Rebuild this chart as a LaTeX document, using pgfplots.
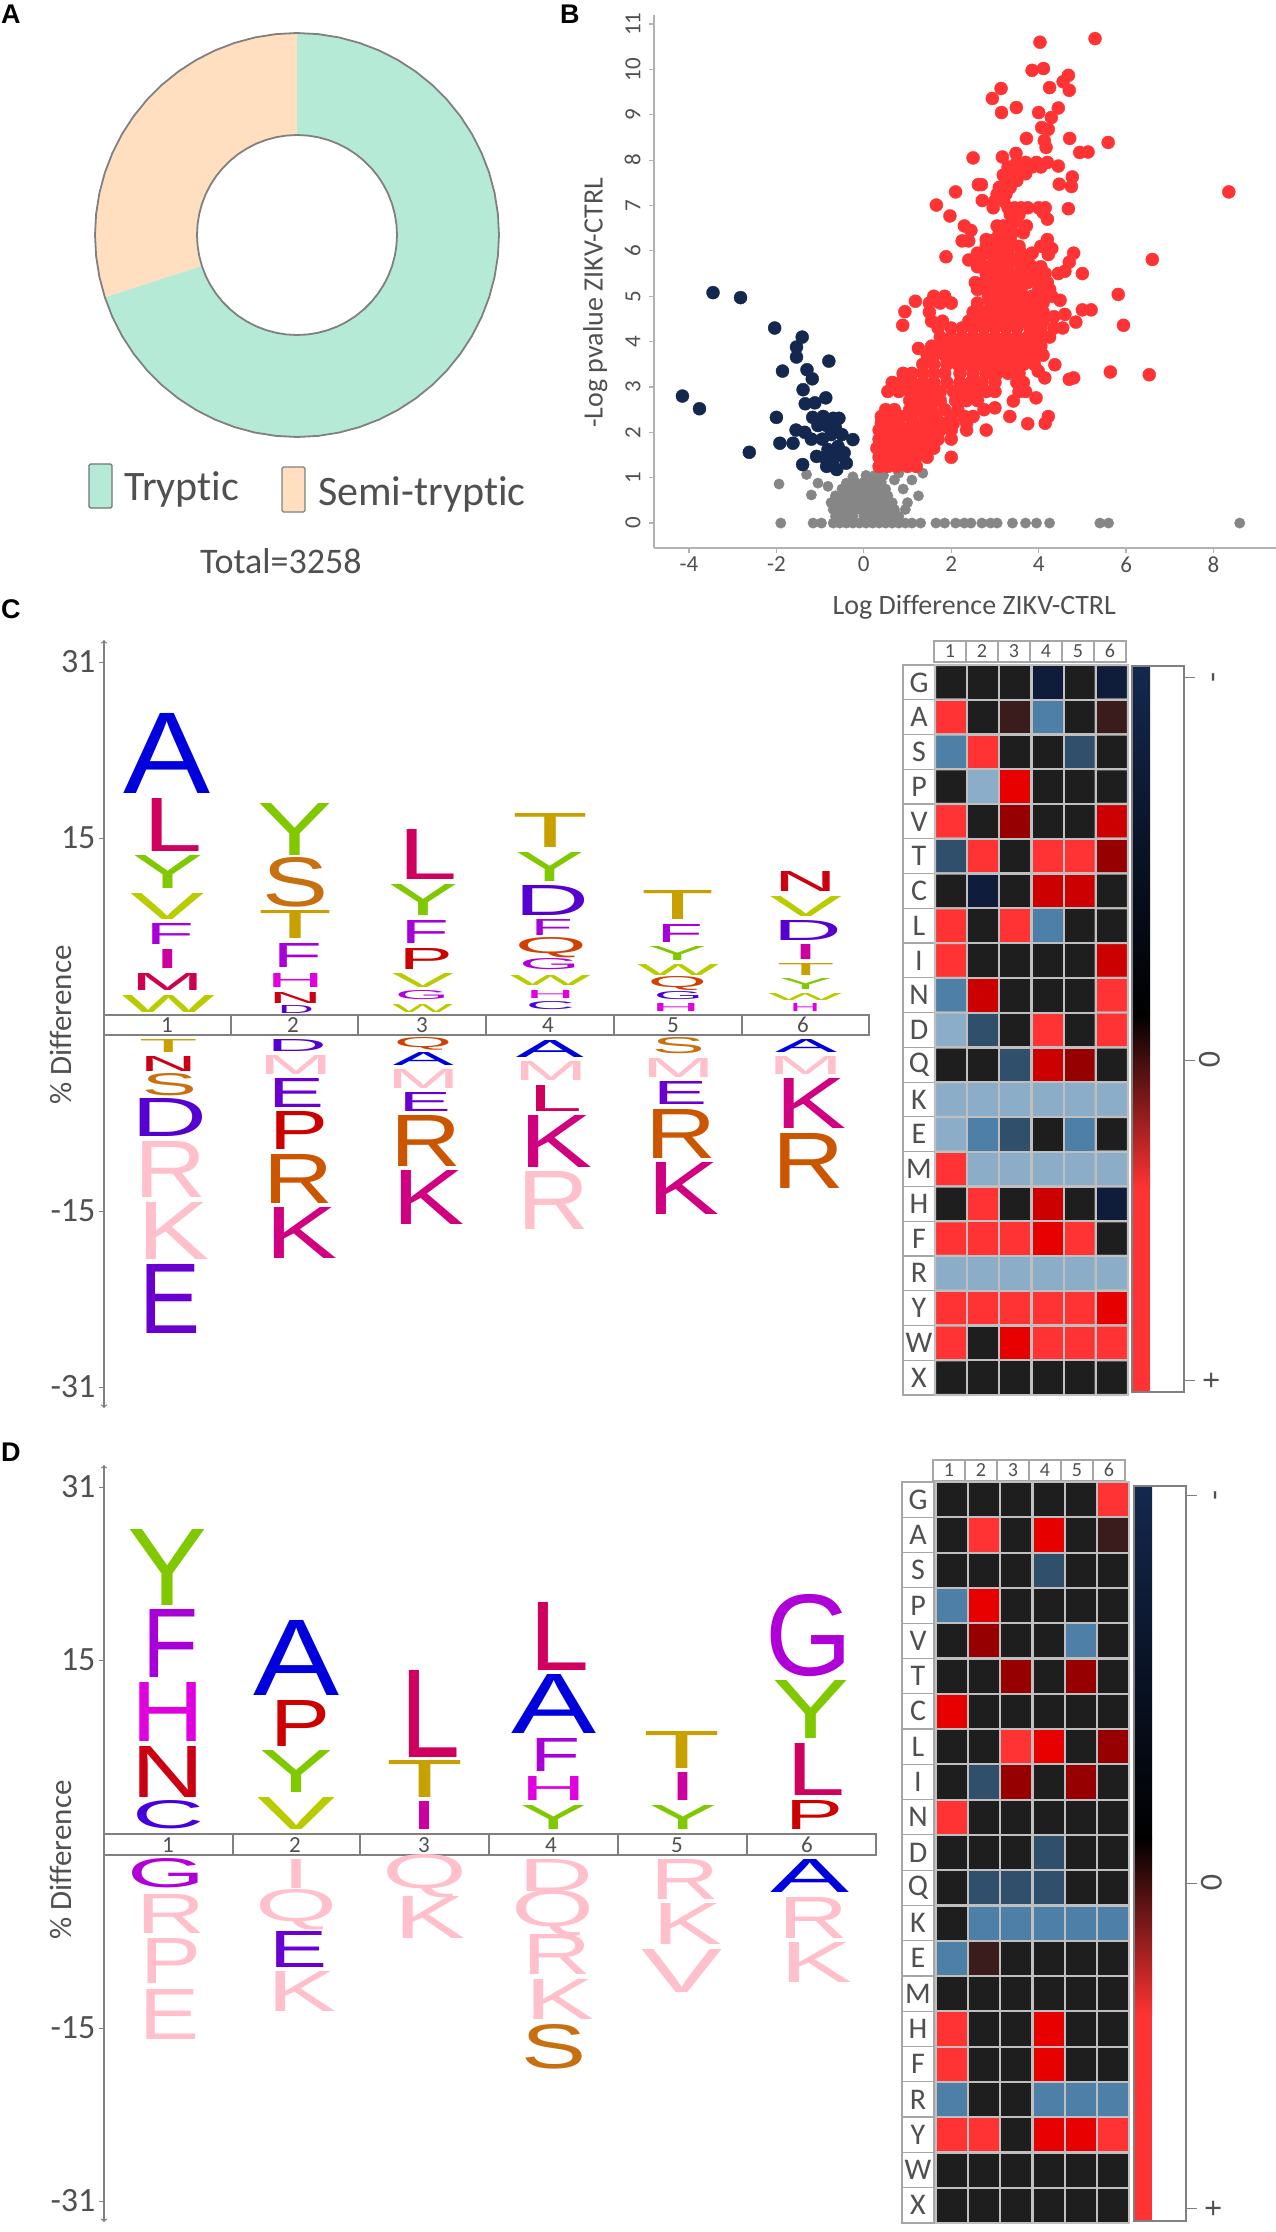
\documentclass[border=0pt]{standalone}
\usepackage{fontspec}
\usepackage{graphicx}
\usepackage{pgfplots}
\usepackage{pgfplotstable}
\pgfplotsset{compat=1.18}
\usepgfplotslibrary{polar}
\setmainfont{Carlito}[Ligatures=NoCommon]
\newfontfamily\lgfont{Liberation Sans}

% panel colours
\definecolor{txt}{HTML}{505050}
\definecolor{axgrey}{HTML}{808080}
\definecolor{mint}{HTML}{B5EAD7}
\definecolor{peach}{HTML}{FFDFBF}
\definecolor{volred}{HTML}{FF3333}
\definecolor{volnavy}{HTML}{14284F}
\definecolor{volgrey}{HTML}{868686}
% logo colours
\definecolor{cA}{HTML}{0000DD}\definecolor{cL}{HTML}{D0005F}\definecolor{cY}{HTML}{80C800}
\definecolor{cV}{HTML}{B8CC00}\definecolor{cF}{HTML}{A800D8}\definecolor{cI}{HTML}{CC00A0}
\definecolor{cM}{HTML}{D00050}\definecolor{cS}{HTML}{C87010}\definecolor{cT}{HTML}{C8A000}
\definecolor{cH}{HTML}{E000E0}\definecolor{cN}{HTML}{CC0010}\definecolor{cD}{HTML}{5500D0}
\definecolor{cR}{HTML}{CC5500}\definecolor{cK}{HTML}{D00080}\definecolor{cE}{HTML}{6A00D0}
\definecolor{cP}{HTML}{CC0000}\definecolor{cQ}{HTML}{D04000}\definecolor{cG}{HTML}{B000D8}
\definecolor{cC}{HTML}{4400DD}\definecolor{cPk}{HTML}{FFC0CB}

% letter of a logo: x0 x1 y0 y1 letter colour, stretched into its box
\newcommand{\LG}[6]{\node[inner sep=0pt,outer sep=0pt,text=#6] at (axis cs:{(#1+#2)/2},{(#3+#4)/2}) {\pgfmathsetmacro\w{#2-#1}\pgfmathsetmacro\h{#4-#3}\resizebox{\w pt}{\h pt}{\lgfont #5}};}

\pgfplotsset{
  logo/.style={
    scale only axis, clip=false, y dir=reverse, anchor=south west,
    axis x line=none, axis y line=left,
    axis line style={<->,draw=axgrey,line width=1.3pt},
    y tick style={draw=axgrey,line width=1pt}, tick align=outside, major tick length=5pt,
    tick label style={font=\fontsize{34}{38}\selectfont,text=txt},
    ytick pos=left,
  },
  heat/.style={
    scale only axis, clip=false, y dir=reverse, anchor=south west, hide axis,
    xmin=-0.5, xmax=5.5, ymin=-0.5, ymax=20.5,
    point meta min=0, point meta max=9,
    colormap={hm}{rgb255=(30,30,30) rgb255=(15,28,58) rgb255=(47,79,107) rgb255=(78,127,166) rgb255=(139,173,200)
      rgb255=(58,28,28) rgb255=(150,0,0) rgb255=(204,0,0) rgb255=(230,0,0) rgb255=(255,51,51)},
  },
}

\pgfplotstableread{
a r
0 202
6 202
12 202
18 202
24 202
30 202
36 202
42 202
48 202
54 202
60 202
66 202
72 202
78 202
84 202
90 202
96 202
102 202
108 202
114 202
120 202
126 202
132 202
138 202
144 202
150 202
156 202
162 202
168 202
174 202
180 202
186 202
192 202
198 202
204 202
210 202
216 202
222 202
228 202
234 202
240 202
246 202
252 202
258 202
264 202
270 202
276 202
282 202
288 202
294 202
300 202
306 202
312 202
318 202
324 202
330 202
336 202
342 202
348 202
354 202
360 202
}\ringtab

% frame of a heat map: top of rows, row height, left of the row labels, top of header, colour bar left, top, bottom
\newcommand{\heatframe}[7]{%
\begin{scope}[x=1pt,y=-1pt]
  \foreach \l [count=\i from 0] in {G,A,S,P,V,T,C,L,I,N,D,Q,K,E,M,H,F,R,Y,W,X} {
    \draw[axgrey!70,line width=1.2pt,fill=white] (#3,{#1+\i*#2}) rectangle ++(32,#2);
    \node[text=txt,font=\fontsize{30}{34}\selectfont,inner sep=0pt] at (#3+16,{#1+(\i+0.5)*#2}) {\l};
  }
  \foreach \n [count=\i from 0] in {1,...,6} {
    \draw[axgrey!70,line width=1.2pt,fill=white] ({#3+31+\i*32},#4) rectangle ++(32,21);
    \node[text=txt,font=\fontsize{20}{24}\selectfont,inner sep=0pt] at ({#3+47+\i*32},#4+10) {\n};
  }
  \fill[white] (#5,#6) rectangle (#5+52,#7);
  \shade[top color=volnavy,bottom color=black] (#5+1,#6) rectangle (#5+18,{#6+0.48*(#7-#6)});
  \shade[top color=black,bottom color=volred] (#5+1,{#6+0.48*(#7-#6)}) rectangle (#5+18,{#6+0.72*(#7-#6)});
  \fill[volred] (#5+1,{#6+0.72*(#7-#6)}) rectangle (#5+18,#7);
  \draw[axgrey,line width=1.6pt] (#5,#6) rectangle (#5+52,#7);
\end{scope}}

\begin{document}
\begin{tikzpicture}
\path[use as bounding box] (0pt,0pt) rectangle (1276pt,-2232pt);

% ---------- A: donut ----------
\begin{polaraxis}[at={(297pt,-235pt)}, anchor=center, scale only axis, width=404pt, height=404pt,
  hide axis, clip=false, xmin=0, xmax=360, ymin=0, ymax=202]
\addplot[fill=peach,draw=none] coordinates {(0,0) (90,202) (96,202) (102,202) (108,202) (114,202) (120,202) (126,202) (132,202) (138,202) (144,202) (150,202) (156,202) (162,202) (168,202) (174,202) (180,202) (186,202) (192,202) (198,202)};
\addplot[fill=mint,draw=none] coordinates {(0,0) (198,202) (204,202) (210,202) (216,202) (222,202) (228,202) (234,202) (240,202) (246,202) (252,202) (258,202) (264,202) (270,202) (276,202) (282,202) (288,202) (294,202) (300,202) (306,202) (312,202) (318,202) (324,202) (330,202) (336,202) (342,202) (348,202) (354,202) (360,202) (6,202) (12,202) (18,202) (24,202) (30,202) (36,202) (42,202) (48,202) (54,202) (60,202) (66,202) (72,202) (78,202) (84,202) (90,202)};
\addplot[fill=white,draw=gray,line width=1.8pt] table[x=a,y expr=100] {\ringtab};
\addplot[draw=gray,line width=1.8pt] table[x=a,y=r] {\ringtab};
\end{polaraxis}

\begin{scope}[x=1pt,y=-1pt]
  \draw[axgrey!90!black,fill=mint,line width=1.4pt,rounded corners=1.5pt] (89,464) rectangle (112,508);
  \draw[axgrey,fill=peach,line width=1.4pt,rounded corners=1.5pt] (282,467) rectangle (305,512);
  \node[anchor=base west,inner sep=0pt,text=txt,font=\fontsize{42}{46}\selectfont] at (124,500) {Tryptic};
  \node[anchor=base west,inner sep=0pt,text=txt,font=\fontsize{42}{46}\selectfont] at (318,505) {Semi-tryptic};
  \node[anchor=base west,inner sep=0pt,text=txt,font=\fontsize{36}{40}\selectfont] at (200,573) {Total=3258};
  \foreach \l/\x/\y in {A/1/24,B/560/24,C/1/618,D/1/1461}
    \node[anchor=base west,inner sep=0pt,font=\lgfont\bfseries\fontsize{27}{30}\selectfont] at (\x,\y) {\l};
\end{scope}

% ---------- B: volcano ----------
\begin{axis}[at={(654pt,-548pt)}, anchor=south west, scale only axis, width=622pt, height=533pt,
  clip=false, xmin=-4.8, xmax=9.43, ymin=-0.55, ymax=11.2,
  axis lines=left, axis line style={-,draw=lightgray!80!gray,line width=2pt},
  tick style={draw=lightgray!80!gray,line width=1.2pt}, tick align=outside, major tick length=5pt,
  xtick={-4,-2,0,2,4,6,8}, xticklabels={-4,-2,0,2,4,6,8},
  ytick={0,...,11}, yticklabels={0,1,2,3,4,5,6,7,8,9,10,11},
  tick label style={font=\fontsize{23}{26}\selectfont,text=txt},
  yticklabel style={rotate=90,anchor=south,yshift=5pt},
  xlabel={Log Difference ZIKV-CTRL}, ylabel={-Log pvalue ZIKV-CTRL},
  label style={font=\fontsize{28}{32}\selectfont,text=txt},
  xlabel style={at={(axis description cs:0.515,0)},anchor=north,yshift=-44pt},
  ylabel style={at={(axis description cs:0,0.46)},anchor=south,yshift=43pt},
]
\addplot[only marks,mark=*,mark size=5.2pt,volgrey,mark options={draw=none,fill=volgrey}] coordinates {
(-1.9,0) (-1.16,0) (-0.97,0) (-0.7,0) (-0.55,0) (-0.4,0) (-0.25,0) (-0.1,0) (0.05,0) (0.2,0) (0.35,0) (0.5,0) (0.65,0) (0.8,0) (0.95,0) (1.1,0) (1.3,0)
(1.65,0) (1.85,0) (2.1,0) (2.3,0) (2.45,0) (2.7,0) (2.9,0) (3.05,0) (3.4,0) (3.7,0) (3.95,0) (4.25,0) (5.4,0) (5.6,0) (8.6,0)
(-0.65,0.15) (-0.45,0.15) (-0.25,0.15) (0,0.15) (0.2,0.15) (0.4,0.15) (0.6,0.15) (0.8,0.15)
(-0.7,0.3) (-0.5,0.3) (-0.3,0.3) (-0.1,0.3) (0.1,0.3) (0.3,0.3) (0.5,0.3) (0.7,0.3) (0.95,0.3)
(-0.75,0.45) (-0.55,0.45) (-0.35,0.45) (-0.15,0.45) (0.05,0.45) (0.25,0.45) (0.45,0.45) (0.65,0.45) (1.0,0.45)
(-0.65,0.6) (-0.45,0.6) (-0.25,0.6) (-0.05,0.6) (0.15,0.6) (0.35,0.6) (0.55,0.6) (1.25,0.6) (-1.2,0.62)
(-0.5,0.75) (-0.3,0.75) (-0.1,0.75) (0.1,0.75) (0.3,0.75) (0.5,0.75) (0.9,0.75) (-0.82,0.81)
(-0.4,0.88) (-0.2,0.9) (0,0.9) (0.2,0.9) (0.4,0.9) (0.7,0.95) (1.1,0.95) (-1.05,0.88) (-1.94,0.86)
(-0.25,1.02) (0.05,1.05) (0.25,1.05) (0.45,1.05) (0.8,1.1) (1.35,1.1) (-1.31,1.07)
};
\addplot[only marks,mark=*,mark size=6.5pt,volred,mark options={draw=none,fill=volred}] coordinates {
(5.29,10.68) (4.03,10.6) (3.85,9.98) (4.11,10.02) (4.68,9.87) (4.56,9.73) (4.25,9.6) (4.7,9.54) (3.14,9.58) (2.94,9.36) (3.15,9.05) (3.49,9.16) (4.0,9.05) (4.45,9.15) (4.29,8.94) (4.07,8.72) (4.22,8.68) (3.72,8.48) (4.71,8.48) (5.59,8.39) (4.13,8.43) (4.17,8.28) (4.94,8.17) (5.13,8.18) (2.5,8.05) (3.17,8.07) (3.48,8.15) (4.45,7.87) (3.19,7.67) (2.69,7.46) (2.62,7.46) (4.77,7.63) (4.47,7.47) (4.75,7.42) (8.35,7.3) (2.1,7.3) (1.66,7.01) (2.71,7.11) (1.97,6.77) (4.68,6.93)
(3.5,7.95) (3.7,7.95) (3.95,7.95) (4.2,7.95) (3.3,7.85) (3.6,7.85) (3.85,7.85) (4.05,7.85) (3.25,7.7) (3.45,7.7) (3.7,7.7) (3.3,7.55) (3.5,7.55) (3.1,7.4) (3.35,7.4) (3.05,7.25) (3.25,7.25) (3.0,7.1) (3.2,7.1)
(2.96,6.95) (3.3,6.95) (3.45,6.95) (3.6,6.95) (3.75,6.95) (4.0,6.95) (4.15,6.95) (4.1,6.85) (4.2,6.7) (3.35,6.8) (3.55,6.8) (3.4,6.65) (3.5,6.65)
(2.3,6.55) (2.45,6.45) (3.05,6.55) (3.2,6.55) (3.72,6.55) (3.1,6.4) (3.4,6.4) (3.65,6.4) (2.25,6.22) (2.4,6.22) (2.8,6.25) (3.0,6.25) (3.15,6.25) (3.35,6.25) (4.2,6.25) (4.05,6.1) (4.3,6.05) (4.22,5.92)
(2.8,6.1) (3.05,6.1) (3.3,6.1) (3.55,6.1) (2.6,5.95) (2.85,5.95) (3.1,5.95) (3.3,5.95) (3.6,5.95) (3.85,5.95) (4.8,5.95) (1.88,5.87) (2.4,5.8) (2.65,5.8) (3.0,5.8) (3.25,5.8) (3.5,5.8) (3.75,5.8) (4.7,5.75) (6.6,5.81)
(2.6,5.65) (2.85,5.65) (3.1,5.65) (3.3,5.65) (3.6,5.65) (3.85,5.65) (4.05,5.65) (4.6,5.55) (4.45,5.5) (5.0,5.5) (2.8,5.5) (3.05,5.5) (3.3,5.5) (3.55,5.5) (3.8,5.5) (4.05,5.5) (4.15,5.5)
(2.55,5.3) (2.75,5.3) (3.0,5.3) (3.25,5.3) (3.5,5.3) (3.75,5.3) (4.0,5.3) (4.2,5.3) (2.6,5.15) (2.85,5.15) (3.1,5.15) (3.35,5.15) (3.6,5.15) (4.0,5.15) (4.25,5.15) (5.82,5.04)
(1.6,5.0) (1.85,5.0) (2.85,5.0) (3.1,5.0) (3.35,5.0) (3.6,5.0) (3.85,5.0) (4.1,5.0) (4.3,5.0) (1.18,4.89) (0.94,4.66) (0.89,4.36)
(1.5,4.85) (1.75,4.85) (2.0,4.85) (2.6,4.85) (2.9,4.85) (3.15,4.85) (3.4,4.85) (3.65,4.85) (3.9,4.85) (4.1,4.85) (4.49,4.91) (5.0,4.7) (5.2,4.7)
(1.5,4.65) (2.5,4.65) (2.75,4.65) (3.0,4.65) (3.25,4.65) (3.5,4.65) (3.75,4.65) (4.0,4.65) (4.1,4.65) (4.6,4.6) (4.35,4.55) (1.55,4.45) (1.8,4.45) (2.4,4.45) (2.65,4.45) (2.9,4.45) (3.15,4.45) (3.4,4.45) (3.65,4.45) (3.9,4.45) (4.1,4.45) (4.85,4.43) (5.94,4.36)
(1.7,4.3) (2.0,4.3) (2.25,4.3) (2.5,4.3) (2.75,4.3) (3.0,4.3) (3.25,4.3) (3.5,4.3) (3.8,4.3) (4.05,4.3) (4.35,4.3) (4.55,4.3) (1.75,4.1) (2.0,4.1) (2.25,4.1) (2.5,4.1) (2.75,4.1) (3.0,4.1) (3.25,4.1) (3.5,4.1) (3.75,4.1) (4.0,4.1) (4.25,4.1)
(1.25,3.85) (1.55,3.9) (1.8,3.9) (2.05,3.9) (2.3,3.9) (2.55,3.9) (2.8,3.9) (3.05,3.9) (3.3,3.9) (3.55,3.9) (3.8,3.9) (4.05,3.9) (1.45,3.7) (1.6,3.7) (1.85,3.7) (2.1,3.7) (2.35,3.7) (2.6,3.7) (2.85,3.7) (3.1,3.7) (3.35,3.7) (3.6,3.7) (3.85,3.7) (4.1,3.7)
(1.35,3.5) (1.6,3.5) (1.9,3.5) (2.15,3.5) (2.4,3.5) (2.65,3.5) (2.9,3.5) (3.15,3.5) (3.4,3.5) (3.65,3.5) (3.9,3.5) (4.37,3.49) (0.9,3.3) (1.1,3.3) (1.35,3.3) (1.6,3.3) (1.85,3.3) (2.2,3.3) (2.5,3.3) (2.8,3.3) (3.05,3.3) (3.3,3.3) (3.55,3.3) (3.99,3.35) (5.64,3.33) (6.53,3.27)
(0.65,3.1) (0.85,3.1) (1.1,3.1) (1.35,3.1) (1.6,3.1) (1.9,3.1) (2.2,3.1) (2.45,3.1) (2.7,3.1) (3.0,3.1) (3.5,3.1) (3.65,3.1) (4.14,3.2) (4.7,3.17) (4.8,3.2) (0.55,2.9) (0.8,2.9) (1.05,2.9) (1.3,2.9) (1.55,2.9) (1.75,2.9) (2.05,2.9) (2.3,2.9) (2.55,2.9) (2.8,2.9) (3.0,2.9) (3.55,2.9) (3.7,2.9)
(1.05,2.7) (1.25,2.7) (1.5,2.7) (1.75,2.7) (2.1,2.7) (2.35,2.7) (2.6,2.7) (3.94,2.76) (3.42,2.69) (0.5,2.5) (0.7,2.5) (1.05,2.5) (1.3,2.5) (1.55,2.5) (1.85,2.5) (2.15,2.5) (2.75,2.5) (3.0,2.54)
(0.4,2.35) (0.6,2.35) (0.85,2.35) (1.1,2.35) (1.4,2.35) (1.65,2.35) (2.0,2.35) (2.3,2.35) (2.5,2.35) (3.34,2.35) (4.22,2.35) (0.4,2.2) (0.6,2.2) (0.8,2.2) (1.1,2.2) (1.35,2.2) (1.6,2.2) (1.85,2.2) (2.05,2.2) (2.35,2.2) (3.75,2.19) (4.15,2.2)
(0.35,2.05) (0.55,2.05) (0.75,2.05) (1.0,2.05) (1.25,2.05) (1.5,2.05) (1.75,2.05) (2.0,2.05) (2.35,2.05) (2.8,2.05) (0.35,1.85) (0.55,1.85) (0.75,1.85) (0.95,1.85) (1.2,1.85) (1.45,1.85) (1.7,1.85) (2.0,1.85)
(0.3,1.65) (0.5,1.65) (0.7,1.65) (0.95,1.65) (1.15,1.65) (1.4,1.65) (1.6,1.65) (0.35,1.45) (0.55,1.45) (0.8,1.45) (1.0,1.45) (1.2,1.45) (1.45,1.45) (2.0,1.45) (0.35,1.25) (0.55,1.25) (0.75,1.25) (1.0,1.25) (1.2,1.25)
};
\addplot[only marks,mark=*,mark size=6.5pt,volnavy,mark options={draw=none,fill=volnavy}] coordinates {
(-3.45,5.08) (-2.82,4.97) (-2.04,4.3) (-1.41,4.1) (-1.54,3.88) (-1.54,3.66) (-0.8,3.57) (-1.86,3.35) (-1.3,3.38) (-1.18,3.18) (-1.39,2.94) (-0.87,2.76) (-1.34,2.63) (-1.12,2.65) (-4.15,2.8) (-3.76,2.52) (-2.0,2.33) (-1.17,2.33) (-0.93,2.35) (-0.7,2.31) (-0.57,2.31)
(-1.05,2.15) (-0.85,2.15) (-0.65,2.1) (-1.55,2.05) (-1.35,2.0) (-0.75,1.95) (-0.5,1.95) (-1.92,1.76) (-1.62,1.76) (-1.2,1.85) (-0.95,1.85) (-0.25,1.84) (-2.62,1.56) (-1.4,1.29) (-1.08,1.47) (-0.82,1.62) (-0.59,1.69) (-0.7,1.4) (-0.85,1.25) (-0.4,1.32) (-0.62,1.18) (-0.9,1.45) (-0.6,1.5) (-0.45,1.55)
};
\end{axis}

% ---------- C: logo ----------
\begin{axis}[logo, at={(104pt,-1408pt)}, width=765pt, height=768pt,
  xmin=104, xmax=869, ymin=640, ymax=1408,
  ytick={662,838,1211,1387}, yticklabels={31,15,-15,-31}]
\addplot[draw=none,forget plot] coordinates {(104,640) (869,1408)};
\draw[axgrey,line width=1.3pt,fill=white] (axis cs:104,1015) rectangle (axis cs:869,1035);
\foreach \x in {231,358,486,614,742} {\edef\t{\noexpand\draw[axgrey,line width=1.2pt] (axis cs:\x,1015) -- (axis cs:\x,1035);}\t}
\foreach \x/\n in {167/1,293/2,422/3,548/4,673/5,803/6} {\edef\t{\noexpand\node[text=txt,inner sep=0pt,font=\noexpand\fontsize{23}{24}\noexpand\selectfont] at (axis cs:\x,1025) {\n};}\t}
\LG{124}{211}{713}{793}{A}{cA}\LG{144}{203}{798}{851}{L}{cL}\LG{133}{204}{855}{888}{Y}{cY}\LG{131}{205}{893}{919}{V}{cV}\LG{146}{194}{923}{944}{F}{cF}\LG{153}{182}{949}{968}{I}{cI}\LG{131}{204}{973}{990}{M}{cM}\LG{122}{215}{995}{1012}{W}{cV}
\LG{258}{333}{803}{855}{Y}{cY}\LG{263}{329}{858}{907}{S}{cS}\LG{259}{333}{910}{938}{T}{cT}\LG{273}{322}{943}{967}{F}{cF}\LG{267}{324}{973}{987}{H}{cH}\LG{269}{322}{992}{1003}{N}{cN}\LG{278}{314}{1005}{1013}{D}{cD}
\LG{399}{458}{829}{879}{L}{cL}\LG{389}{459}{884}{915}{Y}{cY}\LG{401}{449}{920}{943}{F}{cF}\LG{399}{453}{948}{969}{P}{cP}\LG{392}{454}{973}{987}{V}{cV}\LG{395}{449}{991}{1000}{G}{cG}\LG{392}{453}{1004}{1012}{W}{cV}
\LG{513}{589}{813}{847}{T}{cT}\LG{516}{585}{852}{881}{Y}{cY}\LG{515}{590}{885}{915}{D}{cD}\LG{531}{573}{919}{935}{F}{cF}\LG{515}{587}{940}{956}{Q}{cQ}\LG{519}{580}{959}{970}{G}{cG}\LG{510}{591}{975}{985}{W}{cV}\LG{526}{575}{990}{998}{H}{cH}\LG{526}{575}{1002}{1010}{C}{cC}
\LG{642}{715}{890}{919}{T}{cT}\LG{657}{703}{924}{942}{F}{cF}\LG{648}{707}{946}{960}{Y}{cY}\LG{637}{719}{964}{975}{W}{cV}\LG{648}{707}{978}{989}{Q}{cQ}\LG{654}{703}{992}{1000}{G}{cC}\LG{652}{700}{1003}{1011}{H}{cH}
\LG{774}{837}{871}{891}{N}{cN}\LG{770}{842}{896}{916}{V}{cV}\LG{773}{842}{920}{940}{D}{cD}\LG{791}{820}{944}{959}{I}{cI}\LG{777}{835}{963}{975}{T}{cT}\LG{779}{832}{978}{989}{Y}{cY}\LG{768}{842}{993}{1000}{W}{cV}\LG{790}{820}{1003}{1011}{H}{cH}
\LG{139}{198}{1039}{1052}{T}{cT}\LG{140}{197}{1056}{1071}{N}{cN}\LG{142}{197}{1074}{1096}{S}{cS}\LG{132}{208}{1098}{1136}{D}{cD}\LG{135}{207}{1141}{1197}{R}{cPk}\LG{138}{210}{1202}{1259}{K}{cPk}\LG{140}{201}{1264}{1333}{E}{cE}
\LG{267}{327}{1039}{1051}{D}{cD}\LG{259}{333}{1055}{1074}{M}{cPk}\LG{269}{325}{1078}{1107}{E}{cE}\LG{270}{329}{1111}{1149}{P}{cP}\LG{264}{334}{1154}{1203}{R}{cR}\LG{266}{338}{1207}{1258}{K}{cK}
\LG{394}{452}{1039}{1049}{Q}{cQ}\LG{393}{454}{1052}{1065}{A}{cA}\LG{387}{460}{1069}{1088}{M}{cPk}\LG{399}{451}{1092}{1111}{E}{cE}\LG{391}{462}{1115}{1166}{R}{cR}\LG{393}{465}{1170}{1224}{K}{cK}
\LG{516}{584}{1040}{1057}{A}{cA}\LG{514}{588}{1061}{1080}{M}{cPk}\LG{529}{583}{1085}{1111}{L}{cL}\LG{520}{593}{1115}{1167}{K}{cK}\LG{518}{590}{1171}{1229}{R}{cPk}
\LG{652}{705}{1038}{1054}{S}{cS}\LG{642}{715}{1058}{1077}{M}{cPk}\LG{653}{707}{1081}{1104}{E}{cE}\LG{646}{717}{1109}{1158}{R}{cR}\LG{648}{720}{1162}{1214}{K}{cK}
\LG{775}{837}{1039}{1052}{A}{cA}\LG{768}{843}{1056}{1074}{M}{cPk}\LG{776}{847}{1078}{1128}{K}{cK}\LG{773}{845}{1133}{1188}{R}{cR}
\end{axis}

% ---------- D: logo ----------
\begin{axis}[logo, at={(104pt,-2222pt)}, width=772pt, height=757pt,
  xmin=104, xmax=876, ymin=1465, ymax=2222,
  ytick={1487,1660,2028,2201}, yticklabels={31,15,-15,-31}]
\addplot[draw=none,forget plot] coordinates {(104,1465) (876,2222)};
\draw[axgrey,line width=1.3pt,fill=white] (axis cs:104,1834) rectangle (axis cs:876,1855);
\foreach \x in {233,360,489,618,747} {\edef\t{\noexpand\draw[axgrey,line width=1.2pt] (axis cs:\x,1834) -- (axis cs:\x,1855);}\t}
\foreach \x/\n in {168/1,295/2,424/3,551/4,677/5,807/6} {\edef\t{\noexpand\node[text=txt,inner sep=0pt,font=\noexpand\fontsize{23}{24}\noexpand\selectfont] at (axis cs:\x,1845) {\n};}\t}
\LG{128}{208}{1529}{1605}{Y}{cY}\LG{143}{199}{1609}{1677}{F}{cF}\LG{132}{205}{1682}{1741}{H}{cH}\LG{132}{205}{1746}{1797}{N}{cN}\LG{133}{205}{1801}{1829}{C}{cC}
\LG{128}{206}{1859}{1888}{G}{cG}\LG{137}{206}{1894}{1933}{R}{cPk}\LG{141}{202}{1938}{1983}{P}{cPk}\LG{140}{200}{1989}{2039}{E}{cPk}
\LG{254}{340}{1620}{1695}{A}{cA}\LG{271}{331}{1700}{1746}{P}{cP}\LG{260}{334}{1750}{1792}{Y}{cY}\LG{258}{336}{1797}{1829}{V}{cV}
\LG{283}{311}{1859}{1888}{I}{cPk}\LG{256}{338}{1894}{1926}{Q}{cPk}\LG{270}{328}{1931}{1967}{E}{cE}\LG{268}{337}{1971}{2011}{K}{cPk}
\LG{401}{461}{1670}{1757}{L}{cL}\LG{387}{464}{1760}{1797}{T}{cT}\LG{410}{440}{1801}{1829}{I}{cI}
\LG{383}{468}{1859}{1893}{Q}{cPk}\LG{395}{466}{1896}{1938}{K}{cPk}
\LG{530}{590}{1602}{1670}{L}{cL}\LG{512}{597}{1674}{1733}{A}{cA}\LG{531}{581}{1738}{1771}{F}{cF}\LG{521}{586}{1776}{1800}{H}{cH}\LG{520}{587}{1805}{1829}{Y}{cY}
\LG{519}{594}{1859}{1891}{D}{cPk}\LG{512}{595}{1895}{1931}{Q}{cPk}\LG{523}{592}{1934}{1974}{R}{cPk}\LG{526}{595}{1979}{2019}{K}{cPk}\LG{522}{587}{2025}{2069}{S}{cS}
\LG{644}{721}{1731}{1768}{T}{cT}\LG{668}{697}{1772}{1800}{I}{cI}\LG{649}{717}{1805}{1829}{Y}{cY}
\LG{651}{720}{1859}{1899}{R}{cPk}\LG{653}{723}{1903}{1944}{K}{cPk}\LG{642}{723}{1949}{1992}{V}{cPk}
\LG{766}{853}{1595}{1676}{G}{cG}\LG{773}{850}{1680}{1738}{Y}{cY}\LG{787}{846}{1743}{1795}{L}{cL}\LG{786}{844}{1800}{1829}{P}{cP}
\LG{771}{850}{1859}{1892}{A}{cA}\LG{779}{849}{1897}{1938}{R}{cPk}\LG{781}{853}{1942}{1982}{K}{cPk}
\end{axis}

\begin{scope}[x=1pt,y=-1pt]
  \node[rotate=90,text=txt,font=\fontsize{31}{34}\selectfont,inner sep=0pt] at (61,1025) {\% Difference};
  \node[rotate=90,text=txt,font=\fontsize{31}{34}\selectfont,inner sep=0pt] at (61,1860) {\% Difference};
\end{scope}

% ---------- heat maps ----------
\heatframe{665}{34.76}{903}{641}{1132}{666}{1392}
\begin{axis}[heat, at={(935pt,-1395pt)}, width=193pt, height=730pt]
\addplot[matrix plot, mesh/cols=6, point meta=explicit, draw=lightgray, line width=2.2pt] coordinates {
(0,0) [0] (1,0) [0] (2,0) [0] (3,0) [1] (4,0) [0] (5,0) [1]
(0,1) [9] (1,1) [0] (2,1) [5] (3,1) [3] (4,1) [0] (5,1) [5]
(0,2) [3] (1,2) [9] (2,2) [0] (3,2) [0] (4,2) [2] (5,2) [0]
(0,3) [0] (1,3) [4] (2,3) [8] (3,3) [0] (4,3) [0] (5,3) [0]
(0,4) [9] (1,4) [0] (2,4) [6] (3,4) [0] (4,4) [0] (5,4) [7]
(0,5) [2] (1,5) [9] (2,5) [0] (3,5) [9] (4,5) [9] (5,5) [6]
(0,6) [0] (1,6) [1] (2,6) [0] (3,6) [7] (4,6) [7] (5,6) [0]
(0,7) [9] (1,7) [0] (2,7) [9] (3,7) [3] (4,7) [0] (5,7) [0]
(0,8) [9] (1,8) [0] (2,8) [0] (3,8) [0] (4,8) [0] (5,8) [7]
(0,9) [3] (1,9) [7] (2,9) [0] (3,9) [0] (4,9) [0] (5,9) [9]
(0,10) [4] (1,10) [2] (2,10) [0] (3,10) [9] (4,10) [0] (5,10) [9]
(0,11) [0] (1,11) [0] (2,11) [2] (3,11) [7] (4,11) [6] (5,11) [0]
(0,12) [4] (1,12) [4] (2,12) [4] (3,12) [4] (4,12) [4] (5,12) [4]
(0,13) [4] (1,13) [3] (2,13) [2] (3,13) [0] (4,13) [3] (5,13) [0]
(0,14) [9] (1,14) [4] (2,14) [4] (3,14) [4] (4,14) [4] (5,14) [4]
(0,15) [0] (1,15) [9] (2,15) [0] (3,15) [7] (4,15) [0] (5,15) [1]
(0,16) [9] (1,16) [9] (2,16) [9] (3,16) [8] (4,16) [9] (5,16) [0]
(0,17) [4] (1,17) [4] (2,17) [4] (3,17) [4] (4,17) [4] (5,17) [4]
(0,18) [9] (1,18) [9] (2,18) [9] (3,18) [9] (4,18) [9] (5,18) [8]
(0,19) [9] (1,19) [0] (2,19) [8] (3,19) [9] (4,19) [9] (5,19) [9]
(0,20) [0] (1,20) [0] (2,20) [0] (3,20) [0] (4,20) [0] (5,20) [0]
};
\end{axis}
\heatframe{1482}{35.28}{902}{1460}{1134}{1486}{2221}
\begin{axis}[heat, at={(936pt,-2223pt)}, width=193pt, height=741pt]
\addplot[matrix plot, mesh/cols=6, point meta=explicit, draw=lightgray, line width=2.2pt] coordinates {
(0,0) [0] (1,0) [0] (2,0) [0] (3,0) [0] (4,0) [0] (5,0) [9]
(0,1) [0] (1,1) [9] (2,1) [0] (3,1) [8] (4,1) [0] (5,1) [5]
(0,2) [0] (1,2) [0] (2,2) [0] (3,2) [2] (4,2) [0] (5,2) [0]
(0,3) [3] (1,3) [8] (2,3) [0] (3,3) [0] (4,3) [0] (5,3) [0]
(0,4) [0] (1,4) [6] (2,4) [0] (3,4) [0] (4,4) [3] (5,4) [0]
(0,5) [0] (1,5) [0] (2,5) [6] (3,5) [0] (4,5) [6] (5,5) [0]
(0,6) [8] (1,6) [0] (2,6) [0] (3,6) [0] (4,6) [0] (5,6) [0]
(0,7) [0] (1,7) [0] (2,7) [9] (3,7) [8] (4,7) [0] (5,7) [6]
(0,8) [0] (1,8) [2] (2,8) [6] (3,8) [0] (4,8) [6] (5,8) [0]
(0,9) [9] (1,9) [0] (2,9) [0] (3,9) [0] (4,9) [0] (5,9) [0]
(0,10) [0] (1,10) [0] (2,10) [0] (3,10) [2] (4,10) [0] (5,10) [0]
(0,11) [0] (1,11) [2] (2,11) [2] (3,11) [2] (4,11) [0] (5,11) [0]
(0,12) [0] (1,12) [3] (2,12) [3] (3,12) [3] (4,12) [3] (5,12) [3]
(0,13) [3] (1,13) [5] (2,13) [0] (3,13) [0] (4,13) [0] (5,13) [0]
(0,14) [0] (1,14) [0] (2,14) [0] (3,14) [0] (4,14) [0] (5,14) [0]
(0,15) [9] (1,15) [0] (2,15) [0] (3,15) [8] (4,15) [0] (5,15) [0]
(0,16) [9] (1,16) [0] (2,16) [0] (3,16) [8] (4,16) [0] (5,16) [0]
(0,17) [3] (1,17) [0] (2,17) [0] (3,17) [3] (4,17) [3] (5,17) [3]
(0,18) [9] (1,18) [9] (2,18) [0] (3,18) [8] (4,18) [8] (5,18) [9]
(0,19) [0] (1,19) [0] (2,19) [0] (3,19) [0] (4,19) [0] (5,19) [0]
(0,20) [0] (1,20) [0] (2,20) [0] (3,20) [0] (4,20) [0] (5,20) [0]
};
\end{axis}

% colour bar ticks and labels
\begin{scope}[x=1pt,y=-1pt,text=txt]
  \foreach \y/\l in {677/-,1060/0,1380/+} {
    \draw[axgrey,line width=1pt] (1185,\y) -- (1195,\y);
    \node[rotate=-90,font=\fontsize{32}{34}\selectfont,inner sep=0pt] at (1210,\y) {\l};
  }
  \foreach \y/\l in {1495/-,1883/0,2208/+} {
    \draw[axgrey,line width=1pt] (1187,\y) -- (1197,\y);
    \node[rotate=-90,font=\fontsize{32}{34}\selectfont,inner sep=0pt] at (1212,\y) {\l};
  }
\end{scope}
\end{tikzpicture}
\end{document}
